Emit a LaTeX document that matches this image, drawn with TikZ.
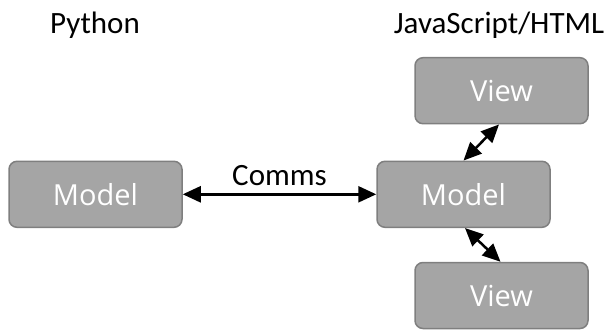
\documentclass[tikz,border=0pt]{standalone}
\usepackage{fontspec}
\setmainfont{Carlito}
\newfontfamily\boxfont{Open Sans}
\usetikzlibrary{arrows.meta}
\definecolor{boxfill}{HTML}{A5A5A5}
\definecolor{boxline}{HTML}{7F7F7F}
\tikzset{
  box/.style={draw=boxline, line width=1.5pt, fill=boxfill, rounded corners=8pt,
    minimum width=173pt, minimum height=66pt, inner sep=0pt,
    font=\boxfont\fontsize{29}{32}\selectfont, text=white},
  lbl/.style={font=\fontsize{31}{36}\selectfont, inner sep=0pt},
  conn/.style={line width=2.5pt, {Triangle[length=18pt,width=16pt]}-{Triangle[length=18pt,width=16pt]}}
}
\begin{document}
\begin{tikzpicture}[x=1pt,y=-1pt]
\useasboundingbox (0,0) rectangle (612,332);
\node[box] (m1) at (95.5,194.3) {Model};
\node[box] (m2) at (463.5,194.3) {Model};
\node[box] (v1) at (501.5,90.7) {View};
\node[box] (v2) at (501.5,295.5) {View};
\node[lbl] (py) at (95,25.5) {Python};
\node[lbl] (js) at (499,25.5) {JavaScript/HTML};
\draw[conn] (m1.east) -- node[lbl, above=7pt] (cm) {Comms} (m2.west);
\draw[conn] ([xshift=-2.5pt]v1.south) -- ([xshift=0pt]m2.north);
\draw[conn] ([xshift=1.5pt]m2.south) -- ([xshift=-1pt]v2.north);
\end{tikzpicture}
\end{document}
